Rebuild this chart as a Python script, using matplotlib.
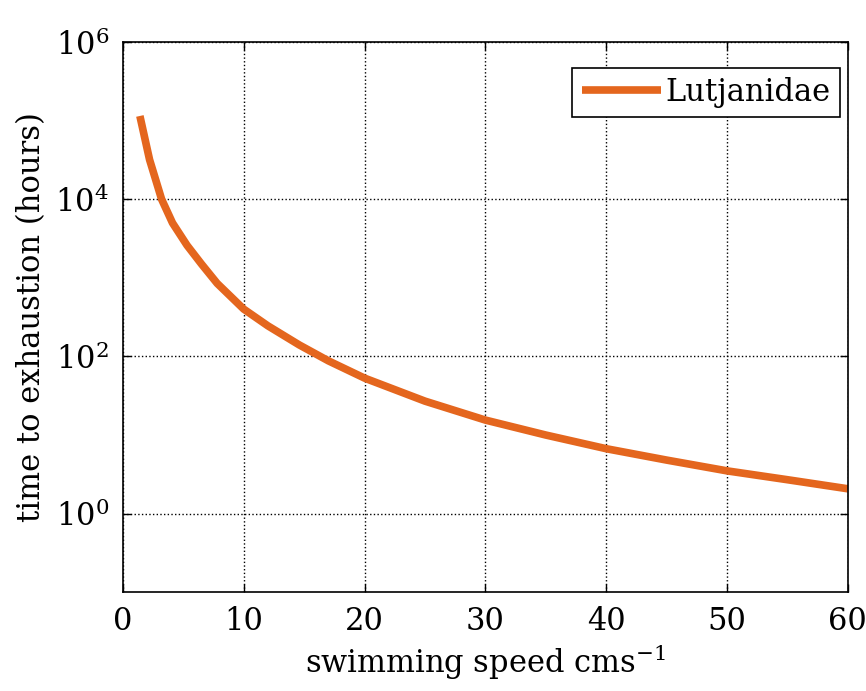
import matplotlib.pyplot as plt
from matplotlib.ticker import FixedLocator, LogFormatterSciNotation, NullLocator

# values
speed = [1.4, 2.2, 3.2, 4.1, 5.3, 6.5, 7.8, 10, 12, 14.6, 17, 20,
         25, 30, 35, 40, 45, 50, 55, 60]
hours = [1.15e5, 3.2e4, 1.0e4, 5000, 2600, 1500, 850, 400, 245, 140, 88, 53,
         27, 15.5, 10, 6.7, 4.8, 3.5, 2.7, 2.07]
label = "Lutjanidae"
xticks = [0, 10, 20, 30, 40, 50, 60]
yticks = [1e0, 1e2, 1e4, 1e6]

plt.rcParams['font.family'] = 'DejaVu Serif'
plt.rcParams['mathtext.fontset'] = 'dejavuserif'
plt.rcParams['font.size'] = 22

fig = plt.figure(figsize=(8.66, 6.91), dpi=100)
ax = fig.add_axes([0.142, 0.143, 0.837, 0.796])

ax.plot(speed, hours, color='#E4661E', linewidth=5.5, label=label,
        solid_capstyle='butt', solid_joinstyle='round')
ax.set_yscale('log')
ax.set_xlim(0, 60)
ax.set_ylim(1e-1, 1e6)

ax.set_xticks(xticks)
ax.yaxis.set_major_locator(FixedLocator(yticks))
ax.yaxis.set_major_formatter(LogFormatterSciNotation())
ax.yaxis.set_minor_locator(NullLocator())

ax.tick_params(direction='in', length=6, width=1, top=True, right=True, pad=10)
ax.grid(True, linestyle=':', color='black', linewidth=1)
for s in ax.spines.values():
    s.set_linewidth(1.2)

ax.set_xlabel("swimming speed cms$^{-1}$", labelpad=4)
ax.set_ylabel("time to exhaustion (hours)", labelpad=6)

leg = ax.legend(loc='upper right', bbox_to_anchor=(0.989, 0.953), borderaxespad=0,
                fancybox=False, edgecolor='black', framealpha=1,
                handlelength=2.6, handletextpad=0.15, borderpad=0.3)
leg.get_frame().set_linewidth(1.2)

fig.savefig("out.png", dpi=100)
